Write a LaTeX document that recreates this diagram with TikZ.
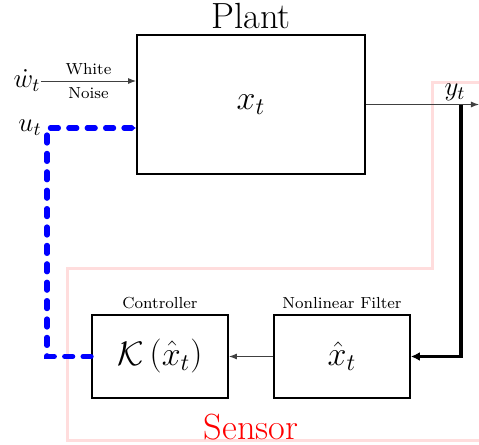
\RequirePackage{fix-cm}
\documentclass[tikz,border=0pt]{standalone}
\usepackage{fontspec}
\usepackage{tikz}
\usetikzlibrary{arrows.meta, positioning}
\usepackage{xcolor}
\definecolor{sensorred}{HTML}{FFDDDD}
\newcommand{\titlesize}{\fontsize{18.2}{22}\selectfont}
\newcommand{\mathsize}{\fontsize{17}{20}\selectfont}
\newcommand{\sigsize}{\fontsize{13.5}{16}\selectfont}

\begin{document}
\begin{tikzpicture}[
    x=0.5pt, y=-0.5pt,
    block/.style={draw, line width=0.9pt, minimum width=68pt, minimum height=41.5pt, font=\mathsize, align=center},
    blocklabel/.style={above=2.5pt of #1, inner sep=0pt, font=\footnotesize},
    sig/.style={font=\sigsize, inner sep=0pt},
    thinarr/.style={draw=black!75, line width=0.5pt, -{Latex[length=4pt, width=3pt]}},
    meas/.style={line width=1.6pt, -{Latex[length=4.5pt, width=4.5pt]}},
    ctrl/.style={draw=blue, line width=2.6pt, line cap=round, dash pattern=on 4pt off 5.2pt, -{Latex[length=2.5pt, width=3.5pt]}},
]
\clip (0,0) rectangle (479,445);

% Sensor region (runs off the right edge)
\draw[sensorred, line width=1.5pt] (500,82) -- (433,82) -- (433,268) -- (68,268) -- (68,441) -- (500,441);
\node[text=red, font=\titlesize, anchor=base] (sensor) at (251,440) {Sensor};

% Plant
\node[block, minimum width=114pt, minimum height=69.5pt] (plant) at (251,104.5) {$x_t$};
\node[blocklabel=plant, font=\titlesize] (plantlbl) {Plant};

% Controller and filter
\node[block] (contr) at (160,356.5) {$\mathcal{K}\left(\hat{x}_t\right)$};
\node[block] (filter) at (342,356.5) {$\hat{x}_t$};
\node[blocklabel=contr] (contrlbl) {Controller};
\node[blocklabel=filter] (filterlbl) {Nonlinear Filter};

% Signals
\node[sig] (wdot) at (27,81) {$\dot{w}_t$};
\node[sig] (ut) at (30,128) {$u_t$};
\node[sig] (yt) at (455,92) {$y_t$};
\coordinate (ucorner) at (47,128);
\coordinate (tap) at (461,104.5);
\coordinate (out) at (479,104.5);

% Arrows
\draw[thinarr] (wdot.east) -- (plant.west |- wdot)
    node[midway, above, inner sep=2.8pt, font=\footnotesize] {White}
    node[midway, below, inner sep=2.8pt, font=\footnotesize] {Noise};
\draw[thinarr] (plant.east |- tap) -- (out);
\draw[meas] (tap) |- (filter.east);
\draw[thinarr] (filter.west) -- (contr.east);
\draw[ctrl] (contr.west) -| (ucorner) -- (plant.west |- ucorner);

\end{tikzpicture}
\end{document}
